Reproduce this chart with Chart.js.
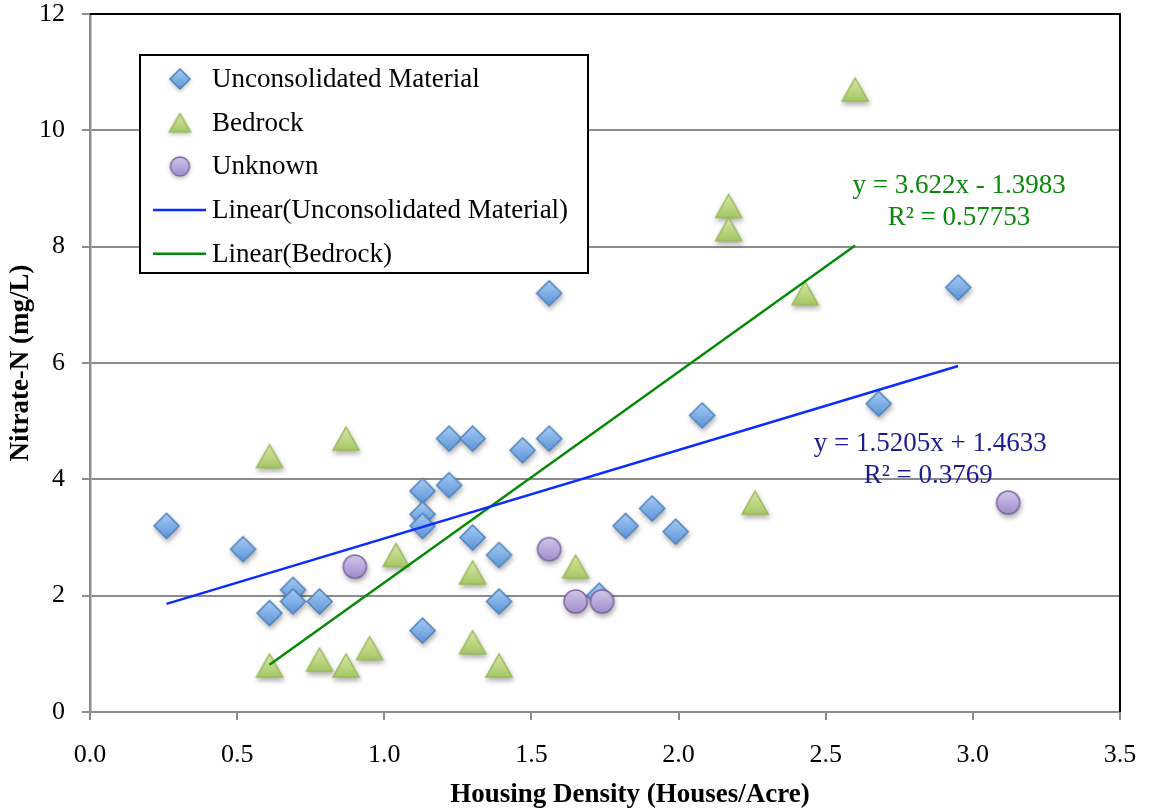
<!DOCTYPE html>
<html>
<head>
<meta charset="utf-8">
<title>Nitrate-N vs Housing Density</title>
<script src="https://cdn.jsdelivr.net/npm/chart.js@4/dist/chart.umd.min.js"></script>
<style>
  html, body { margin: 0; padding: 0; background: #ffffff; }
  #wrap { width: 1149px; height: 812px; }
</style>
</head>
<body>
<div id="wrap"><canvas id="chart" width="1149" height="812"></canvas></div>
<script>
// ---- data ----
const unconsolidatedX = [0.26, 0.52, 0.61, 0.69, 0.69, 0.78, 1.13, 1.13, 1.13, 1.13, 1.22, 1.22, 1.30,
                         1.30, 1.39, 1.39, 1.47, 1.56, 1.56, 1.73, 1.82, 1.91, 1.99, 2.08, 2.68, 2.95];
const unconsolidatedY = [3.2, 2.8, 1.7, 2.1, 1.9, 1.9, 3.8, 3.4, 3.2, 1.4, 4.7, 3.9, 4.7,
                         3.0, 2.7, 1.9, 4.5, 4.7, 7.2, 2.0, 3.2, 3.5, 3.1, 5.1, 5.3, 7.3];
const bedrockX = [0.61, 0.61, 0.78, 0.87, 0.87, 0.95, 1.04, 1.30, 1.30, 1.39, 1.65, 2.17, 2.17, 2.26, 2.43, 2.60];
const bedrockY = [4.4, 0.8, 0.9, 4.7, 0.8, 1.1, 2.7, 2.4, 1.2, 0.8, 2.5, 8.7, 8.3, 3.6, 7.2, 10.7];
const unknownX = [0.90, 1.56, 1.65, 1.74, 3.12];
const unknownY = [2.5, 2.8, 1.9, 1.9, 3.6];

// linear trendline coefficients
const unconsolidatedFit = { slope: 1.5205, intercept: 1.4633, r2: 0.3769 };
const bedrockFit = { slope: 3.622, intercept: -1.3983, r2: 0.57753 };

const xTickLabels = ['0.0', '0.5', '1.0', '1.5', '2.0', '2.5', '3.0', '3.5'];
const yTickLabels = ['0', '2', '4', '6', '8', '10', '12'];

const seriesNames = ['Unconsolidated Material', 'Bedrock', 'Unknown',
                     'Linear(Unconsolidated Material)', 'Linear(Bedrock)'];
const xAxisTitle = 'Housing Density (Houses/Acre)';
const yAxisTitle = 'Nitrate-N (mg/L)';

// ---- helpers ----
const FONT = '"Liberation Serif", "Times New Roman", serif';

function toPoints(xs, ys) {
  return xs.map((x, i) => ({ x: x, y: ys[i] }));
}

function fitSegment(xs, fit) {
  const lo = Math.min.apply(null, xs);
  const hi = Math.max.apply(null, xs);
  return [
    { x: lo, y: fit.slope * lo + fit.intercept },
    { x: hi, y: fit.slope * hi + fit.intercept }
  ];
}

function equationText(fit) {
  const sign = fit.intercept < 0 ? ' - ' : ' + ';
  return 'y = ' + fit.slope + 'x' + sign + Math.abs(fit.intercept);
}

// small pre-rendered marker sprites with a soft vertical gradient
function makeMarker(kind, size) {
  const c = document.createElement('canvas');
  let w, h;
  if (kind === 'triangle') { w = size + 4; h = Math.round(size * 0.88) + 4; }
  else { w = size + 4; h = size + 4; }
  c.width = w; c.height = h;
  const g = c.getContext('2d');
  const cx = w / 2, cy = h / 2;
  let top, bottom, stroke;
  g.beginPath();
  if (kind === 'diamond') {
    const s = size / 2;
    g.moveTo(cx, cy - s); g.lineTo(cx + s, cy); g.lineTo(cx, cy + s); g.lineTo(cx - s, cy); g.closePath();
    top = '#a6cbf3'; bottom = '#5b94d9'; stroke = '#4f81bd';
  } else if (kind === 'triangle') {
    const tw = size, th = Math.round(size * 0.88);
    g.moveTo(cx, cy - th / 2); g.lineTo(cx + tw / 2, cy + th / 2); g.lineTo(cx - tw / 2, cy + th / 2); g.closePath();
    top = '#d7e8a8'; bottom = '#a6c764'; stroke = '#9bbb59';
  } else {
    g.arc(cx, cy, size / 2, 0, Math.PI * 2);
    top = '#d2c6ea'; bottom = '#a08ccb'; stroke = '#8064a2';
  }
  const grad = g.createLinearGradient(0, 2, 0, h - 2);
  grad.addColorStop(0, top);
  grad.addColorStop(1, bottom);
  g.fillStyle = grad;
  g.fill();
  g.lineWidth = 1.5;
  g.strokeStyle = stroke;
  g.stroke();
  return c;
}

const markerDiamond = makeMarker('diamond', 25);
const markerTriangle = makeMarker('triangle', 26);
const markerCircle = makeMarker('circle', 23);
const legendDiamond = makeMarker('diamond', 20);
const legendTriangle = makeMarker('triangle', 21);
const legendCircle = makeMarker('circle', 19);

// ---- plugins ----
const markerShadow = {
  id: 'markerShadow',
  beforeDatasetDraw(chart, args) {
    const ds = chart.data.datasets[args.index];
    if (!ds.isMarker) return;
    const ctx = chart.ctx;
    ctx.save();
    ctx.shadowColor = 'rgba(0,0,0,0.32)';
    ctx.shadowBlur = 5;
    ctx.shadowOffsetX = 1;
    ctx.shadowOffsetY = 3;
  },
  afterDatasetDraw(chart, args) {
    const ds = chart.data.datasets[args.index];
    if (!ds.isMarker) return;
    chart.ctx.restore();
  }
};

const decorations = {
  id: 'decorations',
  afterDraw(chart, args, opts) {
    const ctx = chart.ctx;
    const area = chart.chartArea;
    const xs = chart.scales.x, ys = chart.scales.y;

    // black frame on top and right side of the plot area
    ctx.save();
    ctx.strokeStyle = '#000';
    ctx.lineWidth = 2;
    ctx.beginPath();
    ctx.moveTo(area.left, area.top);
    ctx.lineTo(area.right, area.top);
    ctx.lineTo(area.right, area.bottom);
    ctx.stroke();
    ctx.restore();

    // trendline equations
    ctx.save();
    ctx.font = '27px ' + FONT;
    ctx.textAlign = 'center';
    ctx.textBaseline = 'middle';
    opts.equations.forEach(eq => {
      const px = xs.getPixelForValue(eq.x);
      const py = ys.getPixelForValue(eq.y);
      ctx.fillStyle = eq.color;
      ctx.fillText(equationText(eq.fit), px, py);
      ctx.fillText('R\u00B2 = ' + eq.fit.r2, px + eq.dx2, py + 32);
    });
    ctx.restore();

    // axis titles
    ctx.save();
    ctx.fillStyle = '#000';
    ctx.font = 'bold 27px ' + FONT;
    ctx.textAlign = 'center';
    ctx.textBaseline = 'middle';
    ctx.fillText(xAxisTitle, (area.left + area.right) / 2 + 25, 795);
    ctx.translate(21, (area.top + area.bottom) / 2);
    ctx.rotate(-Math.PI / 2);
    ctx.fillText(yAxisTitle, 0, 0);
    ctx.restore();

    // legend box inside the plot area
    const L = opts.legend;
    const bx = area.left + L.dx, by = area.top + L.dy;
    ctx.save();
    ctx.fillStyle = '#fff';
    ctx.fillRect(bx, by, L.w, L.h);
    ctx.strokeStyle = '#000';
    ctx.lineWidth = 2;
    ctx.strokeRect(bx, by, L.w, L.h);
    ctx.font = '27px ' + FONT;
    ctx.textBaseline = 'middle';
    ctx.textAlign = 'left';
    L.items.forEach((item, i) => {
      const cy = by + L.firstRow + i * L.rowGap;
      const mx = bx + L.markerX;
      if (item.sprite) {
        ctx.save();
        ctx.shadowColor = 'rgba(0,0,0,0.25)';
        ctx.shadowBlur = 4;
        ctx.shadowOffsetY = 2;
        ctx.drawImage(item.sprite, mx - item.sprite.width / 2, cy - item.sprite.height / 2);
        ctx.restore();
      } else {
        ctx.strokeStyle = item.line;
        ctx.lineWidth = 2.5;
        ctx.beginPath();
        ctx.moveTo(mx - 27, cy);
        ctx.lineTo(mx + 26, cy);
        ctx.stroke();
      }
      ctx.fillStyle = '#000';
      ctx.fillText(item.label, bx + L.textX, cy + 1);
    });
    ctx.restore();
  }
};

// ---- chart ----
const GRID = '#8c8c8c';
const BLUE_LINE = '#0a2cff';
const GREEN_LINE = '#078a07';

new Chart(document.getElementById('chart'), {
  type: 'scatter',
  data: {
    datasets: [
      {
        label: seriesNames[3],
        data: fitSegment(unconsolidatedX, unconsolidatedFit),
        showLine: true, borderColor: BLUE_LINE, borderWidth: 2.5,
        pointRadius: 0, order: 0
      },
      {
        label: seriesNames[4],
        data: fitSegment(bedrockX, bedrockFit),
        showLine: true, borderColor: GREEN_LINE, borderWidth: 2.5,
        pointRadius: 0, order: 0
      },
      {
        label: seriesNames[2],
        data: toPoints(unknownX, unknownY),
        pointStyle: markerCircle, pointRadius: 12, isMarker: true, order: 1
      },
      {
        label: seriesNames[1],
        data: toPoints(bedrockX, bedrockY),
        pointStyle: markerTriangle, pointRadius: 12, isMarker: true, order: 2
      },
      {
        label: seriesNames[0],
        data: toPoints(unconsolidatedX, unconsolidatedY),
        pointStyle: markerDiamond, pointRadius: 12, isMarker: true, order: 3
      }
    ]
  },
  options: {
    responsive: false,
    animation: false,
    devicePixelRatio: 1,
    layout: { padding: { top: 14, right: 29, left: 0, bottom: 0 } },
    plugins: {
      legend: { display: false },
      tooltip: { enabled: false },
      decorations: {
        equations: [
          { fit: bedrockFit, x: 2.953, y: 9.04, dx2: 0, color: '#0a870a' },
          { fit: unconsolidatedFit, x: 2.855, y: 4.61, dx2: -2, color: '#1c1c93' }
        ],
        legend: {
          dx: 50, dy: 41, w: 448, h: 218,
          firstRow: 24, rowGap: 43.7, markerX: 40, textX: 72,
          items: [
            { label: seriesNames[0], sprite: legendDiamond },
            { label: seriesNames[1], sprite: legendTriangle },
            { label: seriesNames[2], sprite: legendCircle },
            { label: seriesNames[3], line: BLUE_LINE },
            { label: seriesNames[4], line: GREEN_LINE }
          ]
        }
      }
    },
    scales: {
      x: {
        type: 'linear', min: 0, max: 3.5,
        afterFit(scale) {
          scale.height = 100;
          scale.paddingLeft = 0;
          scale.paddingRight = 0;
        },
        afterBuildTicks(scale) {
          scale.ticks = xTickLabels.map(t => ({ value: parseFloat(t) }));
        },
        ticks: {
          autoSkip: false, maxRotation: 0, padding: 20, color: '#000',
          font: { family: FONT, size: 26 },
          callback: (v, i) => xTickLabels[i]
        },
        grid: { drawOnChartArea: false, drawTicks: true, tickLength: 8, color: GRID, lineWidth: 2 },
        border: { display: true, color: GRID, width: 2 }
      },
      y: {
        type: 'linear', min: 0, max: 12,
        afterFit(scale) {
          scale.width = 90;
          scale.paddingTop = 0;
          scale.paddingBottom = 0;
        },
        afterBuildTicks(scale) {
          scale.ticks = yTickLabels.map(t => ({ value: parseFloat(t) }));
        },
        ticks: {
          autoSkip: false, padding: 17, color: '#000',
          font: { family: FONT, size: 26 },
          callback: (v, i) => yTickLabels[i]
        },
        grid: { drawTicks: true, tickLength: 8, color: GRID, lineWidth: 2 },
        border: { display: true, color: GRID, width: 2.5 }
      }
    }
  },
  plugins: [markerShadow, decorations]
});
</script>
</body>
</html>
